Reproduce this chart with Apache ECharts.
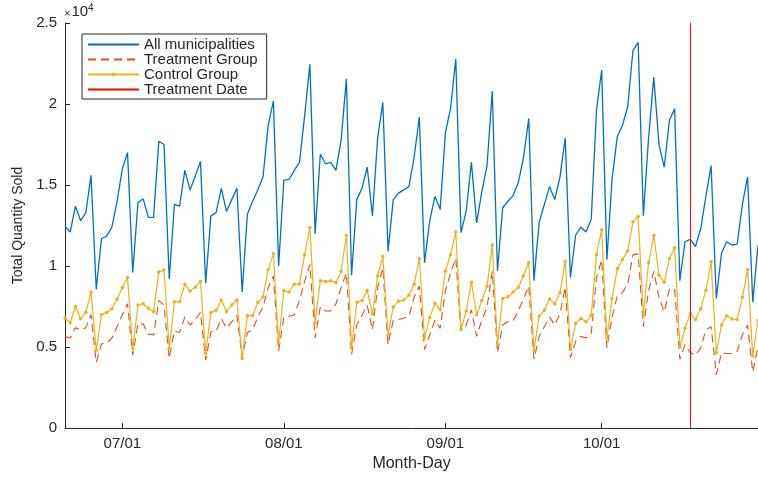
<!DOCTYPE html>
<html>
<head>
<meta charset="utf-8">
<script src="https://cdn.jsdelivr.net/npm/echarts@6/dist/echarts.min.js"></script>
<style>
  html, body { margin: 0; padding: 0; background: #fff; }
  #chart { width: 758px; height: 477px; }
</style>
</head>
<body>
<div id="chart"></div>
<script>
// Daily totals from 06/20 through 10/31
const startMonth = 6;
const startDay = 20;

const allMunicipalities = [
  12440, 12100, 13700, 12800, 13300, 15600, 8570, 11700, 11850, 12400,
  14000, 16000, 17000, 9600, 13900, 14150, 13000, 13000, 17700, 17500,
  9200, 13800, 13700, 15900, 14700, 15560, 16450, 8940, 13100, 13300,
  14800, 13360, 14100, 14800, 8400, 13200, 14000, 14700, 15500, 18700,
  20200, 10000, 15300, 15350, 15900, 16400, 19300, 22460, 12000, 16900,
  16300, 16400, 15900, 17800, 21560, 9440, 14100, 14800, 16100, 13100,
  17900, 20100, 10900, 14100, 14500, 14700, 14900, 16700, 19200, 10200,
  12800, 14300, 13500, 18200, 19750, 22770, 12060, 13400, 16400, 12660,
  14600, 16200, 20800, 9700, 13600, 14000, 14350, 15150, 16700, 19100,
  9100, 12700, 13800, 14900, 14100, 15500, 17900, 9300, 11900, 12400,
  12100, 12900, 19600, 22100, 10400, 15400, 18000, 18700, 19850, 23300,
  23800, 13100, 17900, 21660, 17500, 16100, 19000, 19700, 9100, 11500,
  11650, 11200, 12300, 14300, 16200, 8000, 10800, 11500, 11300, 11350,
  13800, 15500, 7770, 11300
];

const treatmentGroup = [
  5660, 5560, 6200, 6050, 6200, 7000, 4050, 5200, 5250, 5560,
  6260, 7000, 7670, 4500, 6460, 6430, 5800, 5750, 7870, 7570,
  4300, 6000, 5900, 6860, 6360, 6700, 7140, 4200, 5940, 6000,
  6760, 6160, 6560, 6960, 4350, 5900, 6060, 6860, 7470, 8680,
  9380, 4750, 6860, 6900, 7000, 7870, 9070, 10100, 5560, 7470,
  7230, 7230, 7670, 8680, 9580, 4550, 6360, 6960, 7570, 6060,
  8680, 9880, 5150, 6660, 6700, 6780, 6900, 8070, 8770, 4850,
  5760, 6660, 6160, 8470, 9580, 10490, 6000, 6360, 7300, 5660,
  6660, 7470, 9680, 4650, 6360, 6560, 6600, 7240, 7970, 8770,
  4250, 5660, 6260, 6860, 6360, 7060, 8680, 4350, 5350, 5660,
  5560, 5860, 9280, 10390, 4950, 6860, 8170, 8370, 8880, 10690,
  10750, 6260, 8470, 9680, 8070, 7170, 8570, 8600, 4250, 5150,
  4650, 4500, 4950, 6060, 6260, 3300, 4650, 4600, 4600, 4750,
  5760, 6360, 3450, 5050
];

const controlGroup = [
  6800, 6500, 7500, 6750, 7140, 8400, 4800, 7000, 7140, 7370,
  7970, 8680, 9300, 4900, 7600, 7670, 7400, 7200, 9640, 9760,
  4900, 7800, 7800, 8880, 8460, 8700, 9070, 4600, 7140, 7270,
  7900, 7200, 7600, 7900, 4300, 6940, 6940, 7750, 8100, 9780,
  10770, 5250, 8470, 8400, 8880, 8900, 10700, 12380, 6500, 9100,
  9040, 9100, 8980, 9680, 11900, 5000, 7770, 7870, 8500, 7060,
  9380, 10590, 5760, 7470, 7830, 7900, 8200, 8880, 10450, 5560,
  6820, 7700, 7300, 9680, 10700, 12100, 6100, 7230, 9000, 7000,
  7870, 8750, 11300, 5150, 8000, 8100, 8400, 8700, 9400, 10200,
  4800, 6900, 7270, 7970, 7670, 8370, 10300, 4850, 6460, 6760,
  6560, 6960, 10700, 12240, 5560, 8000, 9840, 10400, 10950, 12740,
  13060, 6960, 10220, 11900, 9440, 9000, 10450, 11130, 5000, 6160,
  7060, 6700, 7370, 8500, 10280, 4650, 6360, 6940, 6740, 6700,
  8070, 9780, 4450, 6660
];

const treatmentDate = '10/18';
const yTicks = [0, 5000, 10000, 15000, 20000, 25000];

// Month-day labels, one per data point
const monthLengths = { 6: 30, 7: 31, 8: 31, 9: 30, 10: 31, 11: 30, 12: 31 };
const days = [];
(function () {
  let m = startMonth, d = startDay;
  for (let i = 0; i < allMunicipalities.length; i++) {
    days.push(String(m).padStart(2, '0') + '/' + String(d).padStart(2, '0'));
    d++;
    if (d > monthLengths[m]) { d = 1; m++; }
  }
})();

const ink = '#262626';
const font = 'Liberation Sans, Arial, Helvetica, sans-serif';
const isMonthStart = (idx, val) => /\/01$/.test(val || days[idx]);

const chart = echarts.init(document.getElementById('chart'), null, { renderer: 'canvas' });

chart.setOption({
  animation: false,
  backgroundColor: '#ffffff',
  textStyle: { fontFamily: font, color: ink },
  grid: { left: 65, right: 0, top: 23, bottom: 40, containLabel: false },
  graphic: [
    {
      type: 'text', left: 64, top: 3,
      style: {
        text: '{x|×}{b|10}{e|4}',
        rich: {
          x: { fontSize: 11, fill: ink, fontFamily: font, padding: [3, 1, 0, 0] },
          b: { fontSize: 15, fill: ink, fontFamily: font },
          e: { fontSize: 10, fill: ink, fontFamily: font, padding: [0, 0, 8, 0] }
        }
      }
    }
  ],
  legend: {
    left: 82, top: 34,
    orient: 'vertical',
    backgroundColor: '#ffffff',
    borderColor: ink,
    borderWidth: 1,
    borderRadius: 0,
    padding: [3, 9, 2, 5],
    itemWidth: 51,
    itemHeight: 5,
    itemGap: 0,
    textStyle: { fontFamily: font, fontSize: 15, color: ink, lineHeight: 15 },
    data: [
      { name: 'All municipalities', itemStyle: { opacity: 0 } },
      { name: 'Treatment Group', itemStyle: { opacity: 0 } },
      { name: 'Control Group' },
      { name: 'Treatment Date', itemStyle: { opacity: 0 } }
    ]
  },
  xAxis: {
    type: 'category',
    data: days,
    boundaryGap: false,
    name: 'Month-Day',
    nameLocation: 'middle',
    nameGap: 25,
    nameTextStyle: { fontFamily: font, fontSize: 16, color: ink },
    axisLine: { lineStyle: { color: ink, width: 1 } },
    axisTick: { inside: true, length: 5, interval: isMonthStart, lineStyle: { color: ink } },
    axisLabel: { interval: isMonthStart, fontFamily: font, fontSize: 15, color: ink, margin: 8 },
    splitLine: { show: false }
  },
  yAxis: {
    type: 'value',
    min: yTicks[0],
    max: yTicks[yTicks.length - 1],
    interval: yTicks[1] - yTicks[0],
    name: 'Total Quantity Sold',
    nameLocation: 'middle',
    nameGap: 40,
    nameTextStyle: { fontFamily: font, fontSize: 14, color: ink },
    axisLine: { show: true, lineStyle: { color: ink, width: 1 } },
    axisTick: { show: true, inside: true, length: 5, lineStyle: { color: ink } },
    axisLabel: {
      fontFamily: font, fontSize: 15, color: ink, margin: 8,
      formatter: v => String(v / 10000)
    },
    splitLine: { show: false }
  },
  series: [
    {
      name: 'All municipalities',
      type: 'line',
      data: allMunicipalities,
      symbol: 'none',
      lineStyle: { color: '#0072BD', width: 1.3 },
      itemStyle: { color: '#0072BD' },
      z: 2
    },
    {
      name: 'Treatment Group',
      type: 'line',
      data: treatmentGroup,
      symbol: 'none',
      lineStyle: { color: '#D95319', width: 1.1, type: [8, 5] },
      itemStyle: { color: '#D95319' },
      z: 3
    },
    {
      name: 'Control Group',
      type: 'line',
      data: controlGroup,
      symbol: 'circle',
      symbolSize: 3.5,
      showAllSymbol: true,
      lineStyle: { color: '#EDB120', width: 1.2 },
      itemStyle: { color: '#EDB120' },
      z: 4
    },
    {
      name: 'Treatment Date',
      type: 'line',
      data: [],
      symbol: 'none',
      lineStyle: { color: '#FF0000', width: 1 },
      itemStyle: { color: '#FF0000' },
      markLine: {
        silent: true,
        symbol: ['none', 'none'],
        label: { show: false },
        lineStyle: { color: '#FF0000', width: 1, type: 'solid' },
        data: [{ xAxis: treatmentDate }]
      },
      z: 5
    }
  ]
});
</script>
</body>
</html>
